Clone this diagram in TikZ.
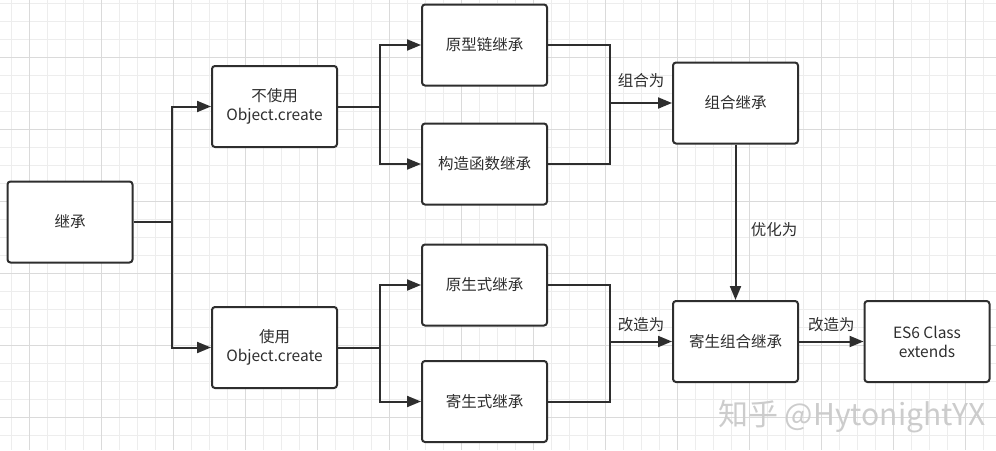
\documentclass[tikz,border=0pt]{standalone}
\usepackage{fontspec}
\setmainfont{Noto Sans CJK SC}
\usepackage{tikz}
\usepackage{xcolor}
\usetikzlibrary{arrows.meta, positioning}
\definecolor{ink}{HTML}{2E2E2E}
\definecolor{gridminor}{HTML}{EDEDED}
\definecolor{gridmajor}{HTML}{DADADA}

\begin{document}
\begin{tikzpicture}[x=1pt, y=-1pt,
    box/.style={draw=ink, line width=2pt, rounded corners=3pt, fill=white,
        minimum width=125pt, minimum height=81pt, align=center,
        font=\fontsize{15.5}{19}\selectfont, text=ink},
    link/.style={draw=ink, line width=2pt},
    arrow/.style={link, -{Triangle[length=14pt,width=11pt]}},
    lbl/.style={font=\fontsize{15.5}{19}\selectfont, text=ink}]
    % Background
    \useasboundingbox (0,0) rectangle (996,450);
    \fill[white] (0,0) rectangle (996,450);

    % Grid
    \foreach \x in {11,29,...,996} {
        \draw[gridminor, line width=1pt] (\x,0) -- (\x,450);
    }
    \foreach \y in {3,21,...,450} {
        \draw[gridminor, line width=1pt] (0,\y) -- (996,\y);
    }
    \foreach \x in {29,101,...,996} {
        \draw[gridmajor, line width=1pt] (\x,0) -- (\x,450);
    }
    \foreach \y in {57,129,...,450} {
        \draw[gridmajor, line width=1pt] (0,\y) -- (996,\y);
    }

    % Boxes
    \node[box] (jc) at (70,222) {继承};
    \node[box] (nouse) at (274.5,106.5) {不使用\\Object.create};
    \node[box] (use) at (274.5,347.5) {使用\\Object.create};
    \node[box] (yxl) at (484.5,45) {原型链继承};
    \node[box] (gz) at (484.5,164) {构造函数继承};
    \node[box] (ys) at (484.5,285) {原生式继承};
    \node[box] (js) at (484.5,401.5) {寄生式继承};
    \node[box] (zh) at (735.5,103) {组合继承};
    \node[box] (jszh) at (735.5,341.5) {寄生组合继承};
    \node[box] (es6) at (927,341.5) {ES6 Class\\extends};

    % Split and merge points
    \coordinate (s1) at (172,222);
    \coordinate (s2) at (380,106.5);
    \coordinate (s3) at (380,347.5);
    \coordinate (m1) at (610,103);
    \coordinate (m2) at (610,341.5);

    % Splits
    \draw[link] (jc.east) -- (s1);
    \draw[arrow] (s1) |- (nouse.west);
    \draw[arrow] (s1) |- (use.west);
    \draw[link] (nouse.east) -- (s2);
    \draw[arrow] (s2) |- (yxl.west);
    \draw[arrow] (s2) |- (gz.west);
    \draw[link] (use.east) -- (s3);
    \draw[arrow] (s3) |- (ys.west);
    \draw[arrow] (s3) |- (js.west);

    % Merges
    \draw[link] (yxl.east) -| (m1);
    \draw[link] (gz.east) -| (m1);
    \draw[arrow] (m1) -- (zh.west) node[lbl, midway, above=11pt] {组合为};
    \draw[link] (ys.east) -| (m2);
    \draw[link] (js.east) -| (m2);
    \draw[arrow] (m2) -- (jszh.west) node[lbl, midway, above=5pt] {改造为};

    % Further steps
    \draw[arrow] (zh.south) -- (jszh.north) node[lbl, pos=0.55, right=11pt] {优化为};
    \draw[arrow] (jszh.east) -- (es6.west) node[lbl, midway, above=5pt] {改造为};

    % Watermark
    \node[font=\fontsize{30}{34}\selectfont, text=gray!40] (mark) at (852,417) {知乎 @HytonightYX};
\end{tikzpicture}
\end{document}
